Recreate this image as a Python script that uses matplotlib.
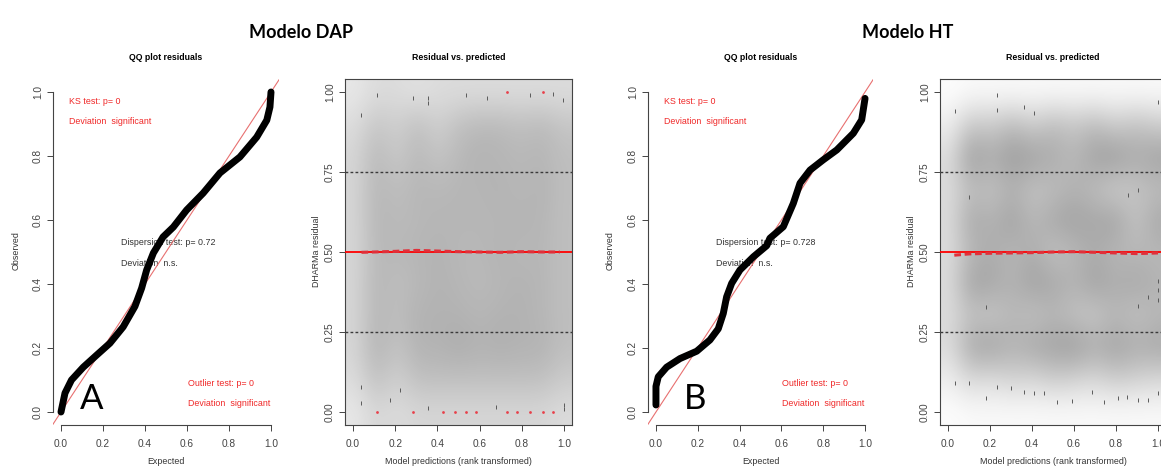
import numpy as np
import matplotlib
matplotlib.use("Agg")
import matplotlib.pyplot as plt
from matplotlib.colors import LinearSegmentedColormap

W, H = 1161, 470

# --- QQ curves (expected vs observed quantiles of scaled residuals) ---
dap_exp = [0.0, 0.019, 0.05, 0.106, 0.17, 0.233, 0.296, 0.352, 0.384, 0.408, 0.44, 0.486,
           0.535, 0.598, 0.677, 0.757, 0.852, 0.932, 0.98, 0.995, 1.0]
dap_obs = [0.0, 0.059, 0.10, 0.14, 0.178, 0.215, 0.266, 0.33, 0.387, 0.444, 0.497, 0.547,
           0.578, 0.631, 0.684, 0.747, 0.797, 0.859, 0.912, 0.953, 1.0]

ht_exp = [0.0, 0.0, 0.011, 0.051, 0.115, 0.195, 0.258, 0.298, 0.322, 0.338, 0.362, 0.402,
          0.466, 0.53, 0.545, 0.609, 0.657, 0.689, 0.737, 0.80, 0.865, 0.944, 0.984, 1.0]
ht_obs = [0.022, 0.08, 0.11, 0.14, 0.167, 0.19, 0.225, 0.26, 0.308, 0.36, 0.402, 0.444,
          0.485, 0.52, 0.543, 0.579, 0.652, 0.715, 0.756, 0.788, 0.819, 0.871, 0.913, 0.98]

# --- residual vs predicted: single plotted residuals ---
dap_pts_x = [0.036, 0.115, 0.286, 0.357, 0.357, 0.534, 0.634, 0.839, 0.95, 0.997,
             0.036, 0.036, 0.175, 0.223, 0.357, 0.678, 1.0, 1.0]
dap_pts_y = [0.928, 0.99, 0.98, 0.98, 0.965, 0.99, 0.98, 0.99, 0.995, 0.975,
             0.079, 0.027, 0.037, 0.069, 0.012, 0.017, 0.022, 0.01]
dap_out_x = [0.112, 0.283, 0.428, 0.483, 0.534, 0.583, 0.728, 0.779, 0.839, 0.899, 0.949,
             0.728, 0.90]
dap_out_y = [0.0, 0.0, 0.0, 0.0, 0.0, 0.0, 0.0, 0.0, 0.0, 0.0, 0.0, 1.0, 1.0]

ht_pts_x = [0.033, 0.235, 0.235, 0.362, 0.41, 0.10, 0.859, 0.907, 0.181, 1.0, 1.0, 1.0,
            0.954, 0.907, 0.033, 0.10, 0.18, 0.235, 0.30, 0.362, 0.41, 0.457, 0.517,
            0.589, 0.684, 0.743, 0.811, 0.854, 0.907, 0.954, 1.0, 1.0]
ht_pts_y = [0.94, 0.99, 0.945, 0.954, 0.934, 0.673, 0.678, 0.694, 0.329, 0.41, 0.38, 0.35,
            0.36, 0.33, 0.09, 0.09, 0.043, 0.079, 0.075, 0.064, 0.06, 0.06, 0.032,
            0.035, 0.064, 0.032, 0.043, 0.048, 0.038, 0.038, 0.058, 0.97]

# quantile regression line at 0.5
dap_q_x = [0.04, 0.1, 0.2, 0.3, 0.4, 0.5, 0.6, 0.7, 0.8, 0.9, 0.98]
dap_q_y = [0.499, 0.500, 0.502, 0.505, 0.503, 0.501, 0.500, 0.499, 0.501, 0.500, 0.500]
ht_q_x = [0.03, 0.1, 0.2, 0.3, 0.4, 0.5, 0.6, 0.7, 0.8, 0.9, 1.0]
ht_q_y = [0.490, 0.494, 0.496, 0.497, 0.498, 0.500, 0.501, 0.499, 0.497, 0.495, 0.497]

# smoothed point density (rows top -> bottom, cols left -> right)
dap_density = np.array([
    [0.20, 0.30, 0.30, 0.25, 0.30, 0.30, 0.30, 0.30, 0.30, 0.30, 0.30],
    [0.30, 0.50, 0.40, 0.55, 0.40, 0.55, 0.60, 0.60, 0.55, 0.60, 0.50],
    [0.35, 0.60, 0.45, 0.60, 0.50, 0.60, 0.65, 0.62, 0.60, 0.62, 0.55],
    [0.35, 0.62, 0.55, 0.62, 0.60, 0.62, 0.62, 0.65, 0.60, 0.65, 0.55],
    [0.35, 0.62, 0.58, 0.60, 0.62, 0.62, 0.62, 0.62, 0.65, 0.62, 0.55],
    [0.35, 0.60, 0.60, 0.62, 0.65, 0.60, 0.60, 0.65, 0.60, 0.62, 0.55],
    [0.35, 0.62, 0.55, 0.60, 0.65, 0.62, 0.58, 0.62, 0.65, 0.62, 0.55],
    [0.35, 0.62, 0.55, 0.65, 0.65, 0.65, 0.62, 0.65, 0.65, 0.62, 0.55],
    [0.35, 0.65, 0.50, 0.65, 0.65, 0.70, 0.65, 0.68, 0.65, 0.65, 0.55],
    [0.30, 0.55, 0.40, 0.55, 0.55, 0.55, 0.55, 0.55, 0.55, 0.55, 0.45],
    [0.20, 0.35, 0.30, 0.35, 0.35, 0.35, 0.35, 0.35, 0.35, 0.35, 0.30],
])
ht_density = np.array([
    [0.02, 0.05, 0.05, 0.05, 0.05, 0.05, 0.05, 0.05, 0.05, 0.05, 0.05],
    [0.15, 0.50, 0.45, 0.60, 0.45, 0.60, 0.50, 0.60, 0.45, 0.55, 0.45],
    [0.30, 0.85, 0.70, 0.85, 0.80, 0.70, 0.60, 0.80, 0.85, 0.70, 0.80],
    [0.30, 0.55, 0.50, 0.65, 0.50, 0.55, 0.65, 0.55, 0.40, 0.50, 0.55],
    [0.30, 0.75, 0.65, 0.80, 0.60, 0.75, 0.80, 0.75, 0.80, 0.50, 0.75],
    [0.30, 0.60, 0.70, 0.60, 0.70, 0.50, 0.60, 0.70, 0.60, 0.60, 0.60],
    [0.30, 0.80, 0.75, 0.65, 0.80, 0.75, 0.65, 0.80, 0.70, 0.75, 0.65],
    [0.30, 0.50, 0.45, 0.60, 0.50, 0.60, 0.50, 0.45, 0.60, 0.50, 0.60],
    [0.30, 0.75, 0.80, 0.65, 0.75, 0.80, 0.85, 0.70, 0.80, 0.70, 0.75],
    [0.15, 0.35, 0.30, 0.40, 0.35, 0.45, 0.40, 0.35, 0.45, 0.40, 0.35],
    [0.02, 0.05, 0.05, 0.05, 0.05, 0.05, 0.05, 0.05, 0.05, 0.05, 0.05],
])

qq_ticks = [0.0, 0.2, 0.4, 0.6, 0.8, 1.0]
qq_labels = ["0.0", "0.2", "0.4", "0.6", "0.8", "1.0"]
res_yticks = [0.0, 0.25, 0.5, 0.75, 1.0]
res_ylabels = ["0.00", "0.25", "0.50", "0.75", "1.00"]

RED = "#f02828"
AXC = "#444444"
FONT = "Liberation Sans"

plt.rcParams["font.family"] = FONT
fig = plt.figure(figsize=(W / 100, H / 100), dpi=100)


def px_axes(left, top, right, bottom):
    return fig.add_axes([left / W, 1 - bottom / H, (right - left) / W, (bottom - top) / H])


def ftext(x, y, s, **kw):
    fig.text(x / W, 1 - y / H, s, ha="center", va="center", **kw)


def style_axes(ax, yticks, ylabels):
    ax.set_xlim(-0.04, 1.04)
    ax.set_ylim(-0.04, 1.04)
    ax.set_xticks(qq_ticks, qq_labels)
    ax.set_yticks(yticks, ylabels)
    for lab in ax.get_yticklabels():
        lab.set_rotation(90)
        lab.set_va("center")
    ax.tick_params(axis="both", length=4, width=0.7, colors=AXC, labelsize=7.3)
    ax.tick_params(axis="x", pad=6)
    ax.tick_params(axis="y", pad=3)
    for sp in ax.spines.values():
        sp.set_color(AXC)
        sp.set_linewidth(0.8)


def qq_panel(ax, xe, yo, disp, letter, letter_x):
    style_axes(ax, qq_ticks, qq_labels)
    ax.spines["top"].set_visible(False)
    ax.spines["right"].set_visible(False)
    ax.spines["left"].set_bounds(0, 1)
    ax.spines["bottom"].set_bounds(0, 1)
    ax.axline((0, 0), (1, 1), color="#e87070", lw=0.8, zorder=2)
    ax.plot(xe, yo, color="black", lw=5.0, solid_capstyle="round",
            solid_joinstyle="round", zorder=3)
    kw = dict(fontsize=6.4, va="center", ha="left", zorder=1)
    ax.text(0.04, 0.97, "KS test: p= 0", color=RED, **kw)
    ax.text(0.04, 0.907, "Deviation  significant", color=RED, **kw)
    ax.text(0.285, 0.529, disp, color="#333333", **kw)
    ax.text(0.285, 0.465, "Deviation  n.s.", color="#333333", **kw)
    ax.text(0.605, 0.09, "Outlier test: p= 0", color=RED, **kw)
    ax.text(0.605, 0.025, "Deviation  significant", color=RED, **kw)
    ax.text(letter_x, 0.04, letter, fontsize=25, family="Lato", color="black",
            ha="center", va="center", zorder=4)


grey_cmap = LinearSegmentedColormap.from_list("dens", ["#ffffff", "#8a8a8a"])


def res_panel(ax, dens, px, py, ox, oy, qx, qy):
    style_axes(ax, res_yticks, res_ylabels)
    ax.imshow(dens, extent=(-0.04, 1.04, -0.04, 1.04), cmap=grey_cmap, vmin=0, vmax=1,
              interpolation="bicubic", aspect="auto", zorder=0)
    ax.axhline(0.25, color="#3a3a3a", lw=1.0, ls=(0, (2, 1.6)), zorder=2)
    ax.axhline(0.75, color="#3a3a3a", lw=1.0, ls=(0, (2, 1.6)), zorder=2)
    ax.plot(px, py, ls="none", marker="|", ms=3.5, mew=0.7, color="#5a5a5a", zorder=3)
    if ox:
        ax.plot(ox, oy, ls="none", marker="o", ms=2.0, color="#e8404a", mew=0, zorder=4)
    ax.axhline(0.5, color="red", lw=1.3, zorder=4)
    ax.plot(qx, qy, color="#e0303a", lw=2.2, ls=(0, (2.2, 1.2)), zorder=5)


# Modelo DAP
ax1 = px_axes(52.6, 79.2, 279.4, 424.8)
qq_panel(ax1, dap_exp, dap_obs, "Dispersion test: p= 0.72", "A", 0.148)
ax2 = px_axes(344.6, 79.2, 572.4, 424.8)
res_panel(ax2, dap_density, dap_pts_x, dap_pts_y, dap_out_x, dap_out_y, dap_q_x, dap_q_y)

# Modelo HT
ax3 = px_axes(647.6, 79.2, 873.4, 424.8)
qq_panel(ax3, ht_exp, ht_obs, "Dispersion test: p= 0.728", "B", 0.188)
ax4 = px_axes(939.6, 79.2, 1166.4, 424.8)
res_panel(ax4, ht_density, ht_pts_x, ht_pts_y, [], [], ht_q_x, ht_q_y)

# titles and axis labels
ftext(301, 32, "Modelo DAP", fontsize=13, fontweight="bold", family="Lato")
ftext(908, 32, "Modelo HT", fontsize=13, fontweight="bold", family="Lato")
for cx, title in [(166, "QQ plot residuals"), (458.5, "Residual vs. predicted"),
                  (760.5, "QQ plot residuals"), (1053, "Residual vs. predicted")]:
    ftext(cx, 57, title, fontsize=6.3, fontweight="bold")
for cx, lab in [(166, "Expected"), (458.5, "Model predictions (rank transformed)"),
                (760.5, "Expected"), (1053, "Model predictions (rank transformed)")]:
    ftext(cx, 462, lab, fontsize=6.4, color="#333333")
for cx, lab in [(16.5, "Observed"), (316.5, "DHARMa residual"),
                (610.5, "Observed"), (911.5, "DHARMa residual")]:
    ftext(cx, 251, lab, fontsize=6.4, color="#333333", rotation=90)

fig.savefig("out.png", dpi=100)
